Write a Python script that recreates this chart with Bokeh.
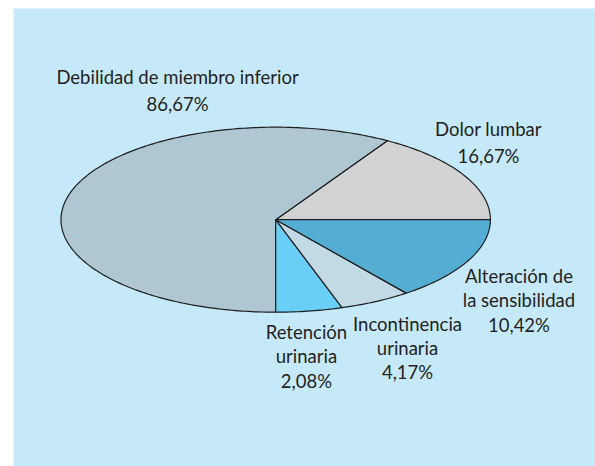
import numpy as np
from bokeh.plotting import figure
from bokeh.models import Range1d
from bokeh.embed import file_html
from bokeh.resources import INLINE
from bokeh.core.properties import value

# ---- data ----
categories = ["Dolor lumbar", "Debilidad de miembro inferior", "Retención urinaria",
              "Incontinencia urinaria", "Alteración de la sensibilidad"]
label_lines = [["Dolor lumbar"], ["Debilidad de miembro inferior"], ["Retención", "urinaria"],
               ["Incontinencia", "urinaria"], ["Alteración de", "la sensibilidad"]]
percentages = [16.67, 86.67, 2.08, 4.17, 10.42]
# share of the ellipse each slice occupies in the drawing (%), counter-clockwise from 3 o'clock
slice_share = [16.3, 58.7, 5.0, 5.4, 14.6]
colors = ["#D2D3D5", "#AFC6D3", "#69CFF6", "#C2DAE5", "#54AED3"]

# ---- layout ----
RX, RY = 214.7, 92.5          # ellipse semi-axes in px
BG = "#C6E9F9"
FONT = "Lato"
FONT_SIZE = "18.5px"
LIFT = 7.5 / RY               # raise labels (px -> data units)
# label anchor (data units of the unit ellipse) and line spacing (px)
label_pos = [(0.991, 0.899, 27), (-0.457, 1.462, 27.5), (0.143, -1.295, 24.5),
             (0.614, -1.209, 24), (1.133, -0.686, 24.5)]

p = figure(width=595, height=466, output_backend="svg", toolbar_location=None,
           x_range=Range1d(-1.2212, 1.4895), y_range=Range1d(-2.6681, 2.2832),
           x_axis_location=None, y_axis_location=None,
           min_border_left=13, min_border_right=0, min_border_top=8, min_border_bottom=0)
p.grid.visible = False
p.outline_line_color = None
p.background_fill_color = BG
p.border_fill_color = "white"

total = sum(slice_share)
xs, ys = [], []
start = 0.0
for s in slice_share:
    end = start + s / total * 2 * np.pi
    t = np.linspace(start, end, max(int(s * 4), 8))
    xs.append([0.0] + list(np.cos(t)) + [0.0])
    ys.append([0.0] + list(np.sin(t)) + [0.0])
    start = end
p.patches(xs=xs, ys=ys, fill_color=colors, line_color="#1E1E1E", line_width=1.2,
          line_join="round")

tx, ty, tt = [], [], []
for lines, pct, (ax, ay, sp) in zip(label_lines, percentages, label_pos):
    all_lines = lines + [f"{pct:.2f}".replace(".", ",") + "%"]
    for i, line in enumerate(all_lines):
        tx.append(ax)
        ty.append(ay + LIFT - i * sp / RY)
        tt.append(line)
p.text(x=tx, y=ty, text=tt, text_font=value(FONT), text_font_size=FONT_SIZE,
       text_color="#231F20", text_align="center", text_baseline="alphabetic")

open("out.html", "w").write(file_html(p, INLINE))
